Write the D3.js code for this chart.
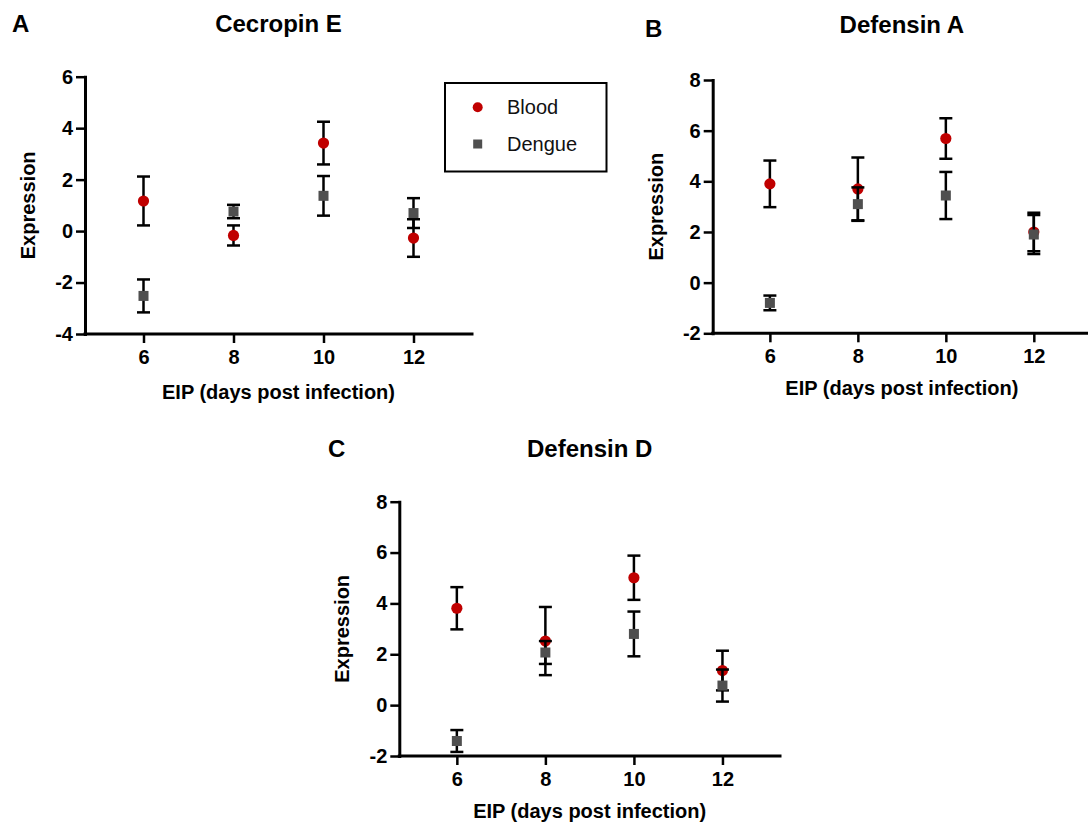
<!DOCTYPE html>
<html>
<head>
<meta charset="utf-8">
<script src="https://cdn.jsdelivr.net/npm/d3@7"></script>
<style>
  html, body { margin: 0; padding: 0; background: #fff; }
  svg { display: block; font-family: "Liberation Sans", Arial, Helvetica, sans-serif; }
</style>
</head>
<body>
<svg id="chart" width="1088" height="827"></svg>
<script>
// ---------------- DATA ----------------
const days = [6, 8, 10, 12];
const xTickValues = [6, 8, 10, 12];
const seriesNames = ["Blood", "Dengue"];

const yTicksA = [-4, -2, 0, 2, 4, 6];
const yTicksBC = [-2, 0, 2, 4, 6, 8];

// Cecropin E
const cecropinBloodMean  = [1.17, -0.17, 3.42, -0.27];
const cecropinBloodErr   = [0.95, 0.39, 0.83, 0.73];
const cecropinDengueMean = [-2.52, 0.76, 1.37, 0.70];
const cecropinDengueErr  = [0.64, 0.26, 0.77, 0.58];

// Defensin A
const defensinABloodMean  = [3.90, 3.70, 5.69, 2.00];
const defensinABloodErr   = [0.92, 1.24, 0.80, 0.76];
const defensinADengueMean = [-0.80, 3.10, 3.44, 1.90];
const defensinADengueErr  = [0.29, 0.66, 0.93, 0.77];

// Defensin D
const defensinDBloodMean  = [3.81, 2.52, 5.01, 1.36];
const defensinDBloodErr   = [0.83, 1.34, 0.87, 0.78];
const defensinDDengueMean = [-1.41, 2.07, 2.80, 0.77];
const defensinDDengueErr  = [0.43, 0.45, 0.88, 0.63];

// ---------------- STYLE ----------------
const bloodColor = "#c00000";
const dengueColor = "#4f4f4f";
const FONT_TICK = 20, FONT_TITLE = 24, FONT_AXIS = 20;

const svg = d3.select("#chart");

const panels = [
  { letter: "A", title: "Cecropin E", letterX: 12, letterY: 32, titleY: 32,
    left: 85, right: 472, top: 76.7, bottom: 334, yDomain: [-4, 6], yTicks: yTicksA, xTitleOff: 65,
    blood: [cecropinBloodMean, cecropinBloodErr], dengue: [cecropinDengueMean, cecropinDengueErr] },
  { letter: "B", title: "Defensin A", letterX: 645, letterY: 37, titleY: 33,
    left: 712.7, right: 1091, top: 80, bottom: 333.3, yDomain: [-2, 8], yTicks: yTicksBC, xTitleOff: 62,
    blood: [defensinABloodMean, defensinABloodErr], dengue: [defensinADengueMean, defensinADengueErr] },
  { letter: "C", title: "Defensin D", letterX: 328, letterY: 456.7, titleY: 456.7,
    left: 399.3, right: 780, top: 501.7, bottom: 756, yDomain: [-2, 8], yTicks: yTicksBC, xTitleOff: 62,
    blood: [defensinDBloodMean, defensinDBloodErr], dengue: [defensinDDengueMean, defensinDDengueErr] }
];

const fmt = d => String(d); // plain hyphen-minus as in the reference

function styleAxis(g) {
  g.select(".domain").attr("stroke", "#000").attr("stroke-width", 3).attr("stroke-linecap", "square");
  g.selectAll(".tick line").attr("stroke", "#000").attr("stroke-width", 2.5);
  g.selectAll(".tick text").attr("fill", "#000").attr("font-size", FONT_TICK).attr("font-weight", "bold")
    .attr("font-family", '"Liberation Sans", Arial, sans-serif');
}

panels.forEach(p => {
  const x = d3.scaleLinear().domain([4.7, 13.3]).range([p.left, p.right]);
  const y = d3.scaleLinear().domain(p.yDomain).range([p.bottom, p.top]);
  const g = svg.append("g");

  // letter + title
  g.append("text").attr("x", p.letterX).attr("y", p.letterY).text(p.letter)
    .attr("font-size", FONT_TITLE).attr("font-weight", "bold");
  g.append("text").attr("x", (p.left + Math.min(p.right, 1091)) / 2).attr("y", p.titleY).text(p.title)
    .attr("text-anchor", "middle").attr("font-size", FONT_TITLE).attr("font-weight", "bold");

  // axes
  const yAxis = d3.axisLeft(y).tickValues(p.yTicks).tickSize(9).tickPadding(3).tickSizeOuter(0)
    .tickFormat(fmt);
  const gy = g.append("g").attr("transform", `translate(${p.left},0)`).call(yAxis);
  styleAxis(gy);
  const xAxis = d3.axisBottom(x).tickValues(xTickValues).tickSize(9).tickPadding(7).tickSizeOuter(0)
    .tickFormat(fmt);
  const gx = g.append("g").attr("transform", `translate(0,${p.bottom})`).call(xAxis);
  styleAxis(gx);
  gx.select(".domain").attr("d", `M${p.left},0H${p.right}`);

  // axis titles
  g.append("text").attr("transform", `translate(${p.left - 50},${(p.top + p.bottom) / 2}) rotate(-90)`)
    .attr("text-anchor", "middle").attr("font-size", FONT_AXIS).attr("font-weight", "bold").text("Expression");
  g.append("text").attr("x", (p.left + p.right) / 2).attr("y", p.bottom + p.xTitleOff)
    .attr("text-anchor", "middle").attr("font-size", FONT_AXIS).attr("font-weight", "bold")
    .text("EIP (days post infection)");

  // series: Blood first, Dengue on top
  [["Blood", p.blood], ["Dengue", p.dengue]].forEach(([name, [means, errs]]) => {
    const data = days.map((d, i) => ({ d, m: means[i], e: errs[i] }));
    const sg = g.append("g");
    const capW = 6.5;
    sg.selectAll("line.bar").data(data).join("line")
      .attr("x1", v => x(v.d)).attr("x2", v => x(v.d))
      .attr("y1", v => y(v.m - v.e)).attr("y2", v => y(v.m + v.e))
      .attr("stroke", "#000").attr("stroke-width", 2.5);
    sg.selectAll("line.capT").data(data).join("line")
      .attr("x1", v => x(v.d) - capW).attr("x2", v => x(v.d) + capW)
      .attr("y1", v => y(v.m + v.e)).attr("y2", v => y(v.m + v.e))
      .attr("stroke", "#000").attr("stroke-width", 2.5);
    sg.selectAll("line.capB").data(data).join("line")
      .attr("x1", v => x(v.d) - capW).attr("x2", v => x(v.d) + capW)
      .attr("y1", v => y(v.m - v.e)).attr("y2", v => y(v.m - v.e))
      .attr("stroke", "#000").attr("stroke-width", 2.5);
    if (name === "Blood") {
      sg.selectAll("circle").data(data).join("circle")
        .attr("cx", v => x(v.d)).attr("cy", v => y(v.m)).attr("r", 5.6).attr("fill", bloodColor);
    } else {
      sg.selectAll("rect").data(data).join("rect")
        .attr("x", v => x(v.d) - 5).attr("y", v => y(v.m) - 5).attr("width", 10).attr("height", 10)
        .attr("fill", dengueColor);
    }
  });
});

// legend (panel A)
const lg = svg.append("g");
lg.append("rect").attr("x", 445).attr("y", 83).attr("width", 161.5).attr("height", 88.5)
  .attr("fill", "#fff").attr("stroke", "#000").attr("stroke-width", 2);
seriesNames.forEach((name, i) => {
  const cy = 107.3 + i * 36.7;
  if (name === "Blood") {
    lg.append("circle").attr("cx", 477.7).attr("cy", cy).attr("r", 5).attr("fill", bloodColor);
  } else {
    lg.append("rect").attr("x", 473.2).attr("y", cy - 4.5).attr("width", 9).attr("height", 9).attr("fill", dengueColor);
  }
  lg.append("text").attr("x", 507).attr("y", cy + 7).attr("font-size", 20).attr("fill", "#111").text(name);
});
</script>
</body>
</html>
